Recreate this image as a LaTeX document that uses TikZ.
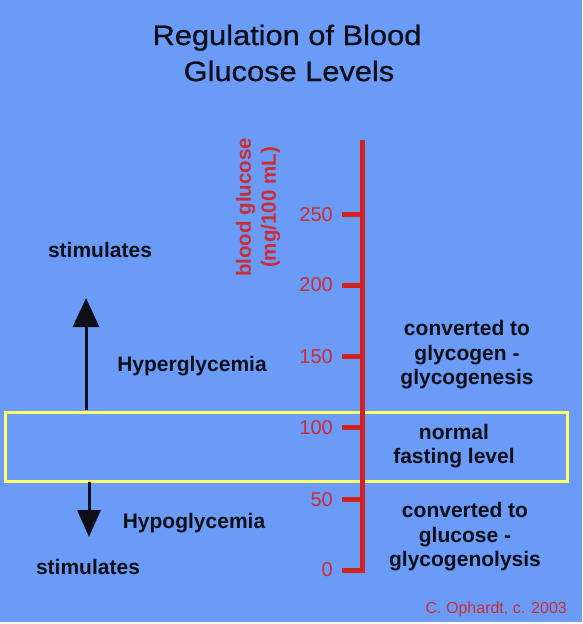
\documentclass[tikz,border=0pt]{standalone}
\usepackage{fontspec}
\setmainfont{Liberation Sans}
\newfontfamily\titlefont[FakeStretch=1.1,FakeBold=0.8]{Liberation Sans}
\usetikzlibrary{arrows.meta}
\definecolor{bgblue}{RGB}{106,155,246}
\definecolor{axisred}{RGB}{210,34,34}
\definecolor{numred}{RGB}{204,44,52}
\definecolor{boxyellow}{RGB}{255,255,102}
\definecolor{inkblack}{RGB}{15,15,25}
\begin{document}
\begin{tikzpicture}[x=1pt,y=-1pt,
  lbl/.style={font=\fontsize{21}{24.5}\selectfont\bfseries, text=inkblack, inner sep=0pt, align=center},
  num/.style={font=\fontsize{20}{24}\selectfont, text=numred, inner sep=0pt, anchor=east},
  axisline/.style={draw=axisred, line width=5pt},
  tickline/.style={draw=axisred, line width=5pt},
  titletext/.style={font=\titlefont\fontsize{28}{36}\selectfont, text=inkblack, inner sep=0pt, anchor=base},
  arrowline/.style={draw=inkblack, line width=3pt},
  bigtip/.style={-{Triangle[width=26pt,length=29pt]}},
  smalltip/.style={-{Triangle[width=23pt,length=27pt]}},
  rangebox/.style={draw=boxyellow, line width=3pt, minimum width=562pt, minimum height=69pt, inner sep=0pt, anchor=north west}]
\useasboundingbox (0,0) rectangle (582,624);
\fill[white] (0,0) rectangle (582,624);
\fill[bgblue] (0,0) rectangle (582,621.5);

% title
\node[titletext] (title1) at (287,45) {Regulation of Blood};
\node[titletext] (title2) at (289,81) {Glucose Levels};

% normal range box
\node[rangebox] (normalbox) at (4,411) {};

% axis
\coordinate (axtop) at (362,140);
\coordinate (axbot) at (362,572.5);
\draw[axisline] (axtop) -- (axbot);
\foreach \v/\y/\ly in {250/214/215,200/285/285,150/356/357,100/427/428,50/499/500,0/570/570} {
  \coordinate (t\v) at (342,\y);
  \coordinate (a\v) at (362,\y);
  \draw[tickline] (t\v) -- (a\v);
  \node[num] (n\v) at (333,\ly) {\v};
}

% axis label
\node[font=\fontsize{20.5}{25}\selectfont\bfseries, text=numred, rotate=90, align=center, inner sep=0pt] (ylabel) at (258,207.5) {blood glucose\\(mg/100 mL)};

% arrows
\coordinate (upfrom) at (86,409.5);
\coordinate (upto) at (86,298);
\draw[arrowline, bigtip] (upfrom) -- (upto);
\coordinate (downfrom) at (89,481.5);
\coordinate (downto) at (89,537);
\draw[arrowline, smalltip] (downfrom) -- (downto);

% labels
\node[lbl] (stimup) at (100,250) {stimulates};
\node[lbl] (hyper) at (192,366) {Hyperglycemia};
\node[lbl] (hypo) at (194,523) {Hypoglycemia};
\node[lbl] (stimdown) at (88,567) {stimulates};
\node[lbl] (genesis) at (467,355) {converted to\\glycogen -\\glycogenesis};
\node[lbl] (fasting) at (454,446) {normal\\fasting level};
\node[lbl] (lysis) at (465,537) {converted to\\glucose -\\glycogenolysis};

% credit
\node[font=\fontsize{16}{18}\selectfont, text=numred, anchor=base east, inner sep=0pt] (credit) at (567,613) {C. Ophardt, c. 2003};
\end{tikzpicture}
\end{document}
